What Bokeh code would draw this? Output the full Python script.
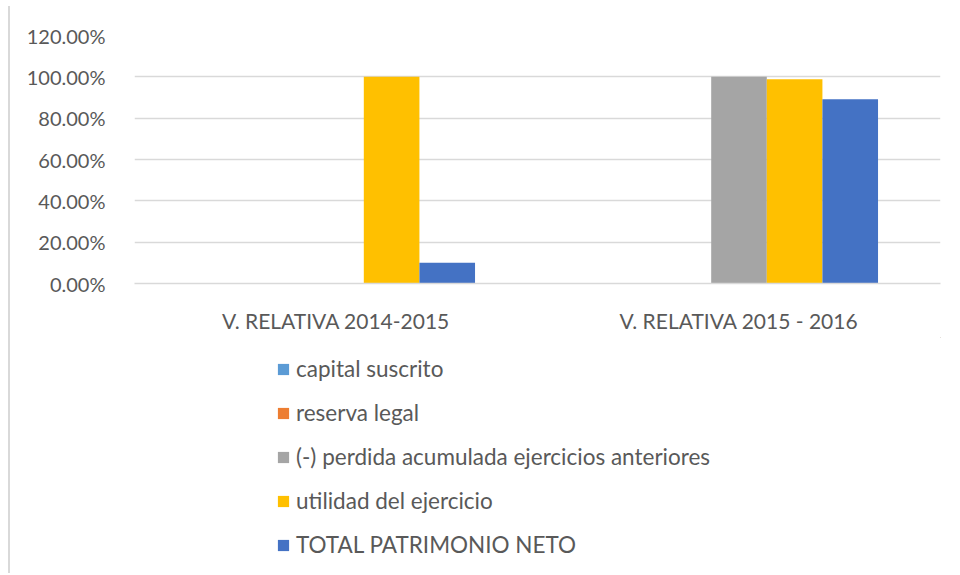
from bokeh.plotting import figure
from bokeh.layouts import column
from bokeh.models import FactorRange, Range1d, NumeralTickFormatter, Legend, LegendItem, FixedTicker
from bokeh.transform import dodge
from bokeh.embed import file_html
from bokeh.resources import INLINE

categories = ["V. RELATIVA 2014-2015", "V. RELATIVA 2015 - 2016"]
series_names = ["capital suscrito", "reserva legal",
                "(-) perdida acumulada ejercicios anteriores",
                "utilidad del ejercicio", "TOTAL PATRIMONIO NETO"]
capital = [0.0, 0.0]
reserva = [0.0, 0.0]
perdida = [0.0, 1.0]
utilidad = [1.0, 0.988]
total = [0.101, 0.892]
colors = ["#5B9BD5", "#ED7D31", "#A5A5A5", "#FFC000", "#4472C4"]
y_ticks = [0, 0.2, 0.4, 0.6, 0.8, 1.0, 1.2]

FONT = "Lato"
TXT = "#595959"

data = {"cat": categories, "s0": capital, "s1": reserva, "s2": perdida, "s3": utilidad, "s4": total}

p = figure(x_range=FactorRange(*categories, range_padding=0), y_range=Range1d(0, 1.2),
           width=934, height=331, output_backend="svg", toolbar_location=None,
           min_border_left=124, min_border_right=4, min_border_top=29, min_border_bottom=54)
p.outline_line_color = None

bw = 0.138
offsets = [-2 * bw, -bw, 0, bw, 2 * bw]
for i, name in enumerate(series_names):
    p.vbar(x=dodge("cat", offsets[i], range=p.x_range), top="s%d" % i, width=bw,
           source=data, fill_color=colors[i], line_color=None)

p.yaxis.ticker = FixedTicker(ticks=y_ticks)
p.yaxis.formatter = NumeralTickFormatter(format="0.00%")
p.yaxis.axis_line_color = None
p.yaxis.major_tick_line_color = None
p.yaxis.minor_tick_line_color = None
p.yaxis.major_label_standoff = 23
p.yaxis.major_label_text_font = FONT
p.yaxis.major_label_text_font_size = "20px"
p.yaxis.major_label_text_color = TXT

p.xaxis.axis_line_color = "#d9d9d9"
p.xaxis.axis_line_width = 1.5
p.xaxis.major_tick_line_color = None
p.xaxis.minor_tick_line_color = None
p.xaxis.major_label_standoff = 18
p.xaxis.major_label_text_font = FONT
p.xaxis.major_label_text_font_size = "21px"
p.xaxis.major_label_text_color = TXT

p.xgrid.grid_line_color = None
p.ygrid.grid_line_color = "#d9d9d9"
p.ygrid.grid_line_width = 1.5

# legend panel
p2 = figure(width=934, height=236, output_backend="svg", toolbar_location=None,
            x_axis_type=None, y_axis_type=None, x_range=Range1d(0, 1), y_range=Range1d(0, 1),
            min_border_left=0, min_border_right=0, min_border_top=0, min_border_bottom=0)
p2.outline_line_color = None
p2.grid.grid_line_color = None
items = []
for i, name in enumerate(series_names):
    r = p2.vbar(x=[10], top=[10], bottom=[9], width=0.1, fill_color=colors[i], line_color=None)
    items.append(LegendItem(label=name, renderers=[r]))

legend = Legend(items=items, location=(142, 15), orientation="vertical",
                glyph_width=14, glyph_height=14, label_height=22, spacing=17,
                padding=0, margin=0, label_standoff=6,
                label_text_font=FONT, label_text_font_size="22.5px", label_text_color=TXT,
                border_line_color=None, background_fill_alpha=0)
p2.add_layout(legend, "center")

layout = column(p, p2, spacing=0)
layout.styles = {"border-left": "2px solid #d9d9d9", "margin-left": "8px", "margin-top": "6px"}

open("out.html", "w").write(file_html(layout, INLINE))
